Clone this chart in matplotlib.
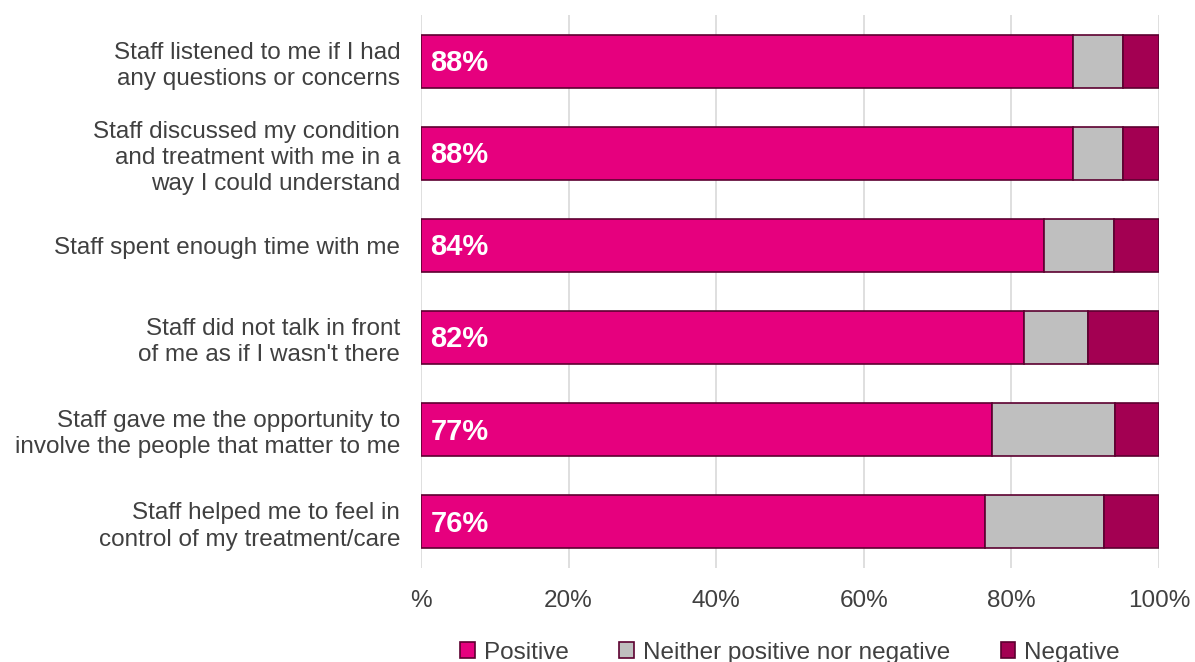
import numpy as np
import matplotlib.pyplot as plt

plt.rcParams['font.family'] = ['Liberation Sans', 'DejaVu Sans']

questions = [
    "Staff listened to me if I had\nany questions or concerns",
    "Staff discussed my condition\nand treatment with me in a\nway I could understand",
    "Staff spent enough time with me",
    "Staff did not talk in front\nof me as if I wasn't there",
    "Staff gave me the opportunity to\ninvolve the people that matter to me",
    "Staff helped me to feel in\ncontrol of my treatment/care",
]
positive = [88.4, 88.4, 84.4, 81.7, 77.4, 76.4]
neutral = [6.7, 6.7, 9.5, 8.7, 16.6, 16.1]
negative = [4.9, 4.9, 6.1, 9.6, 6.0, 7.5]
series_names = ["Positive", "Neither positive nor negative", "Negative"]
tick_labels = ["%", "20%", "40%", "60%", "80%", "100%"]

colors = ["#E6007E", "#BFBFBF", "#A30052"]
edge = "#5C0030"
fs = 17.5

fig = plt.figure(figsize=(11.95, 6.62), dpi=100)
ax = fig.add_axes([421 / 1195, 1 - 568 / 662, 738 / 1195, 553 / 662])

y = np.arange(len(questions))
left = np.zeros(len(questions))
for vals, name, c in zip([positive, neutral, negative], series_names, colors):
    ax.barh(y, vals, left=left, height=0.575, color=c, edgecolor=edge,
            linewidth=1.2, label=name, zorder=3)
    left += np.array(vals)

for yi, v in zip(y, positive):
    ax.text(1.3, yi + 0.02, f"{v:.0f}%", color="white", fontsize=21, fontweight="bold",
            va="center", ha="left", zorder=4)

ax.set_xlim(0, 100)
ax.set_ylim(len(questions) - 0.5, -0.5)
ax.set_yticks(y)
ax.set_yticklabels(questions, fontsize=fs, color="#404040", linespacing=1.25)
ax.set_xticks(np.arange(0, 101, 20))
ax.set_xticklabels(tick_labels, fontsize=fs, color="#404040")
ax.tick_params(axis='x', length=0, pad=16)
ax.tick_params(axis='y', length=0, pad=15)
ax.xaxis.grid(True, color="#D9D9D9", linewidth=1.2, zorder=0)
for s in ax.spines.values():
    s.set_visible(False)

ax.legend(loc="center", bbox_to_anchor=(0.5, -0.153), ncol=3, frameon=False,
          fontsize=fs, handlelength=0.6, handleheight=0.6, handletextpad=0.35,
          columnspacing=2.1, labelcolor="#404040")

fig.savefig("out.png", dpi=100)
